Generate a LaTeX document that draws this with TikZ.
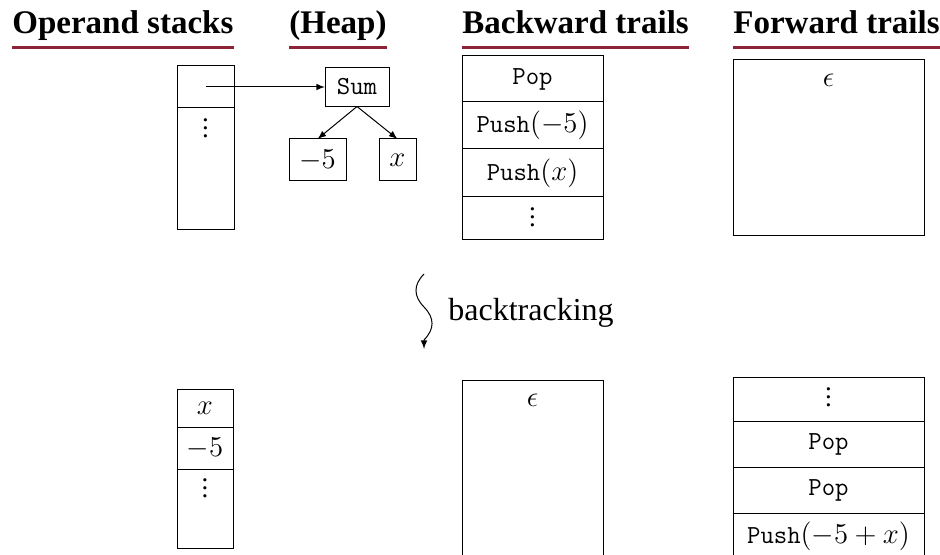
\documentclass[tikz,border=0pt]{standalone}
\usepackage{fontspec}
\setmainfont{Liberation Serif}
\usepackage{amsmath}
\usetikzlibrary{arrows,shapes,positioning}
\definecolor{headred}{RGB}{140,35,55}
\newcommand{\op}[1]{{\fontsize{13}{15}\selectfont\ttfamily #1}}

\begin{document}
\begin{tikzpicture}[x=0.5pt,y=-0.5pt]

		\tikzstyle{every node}=[font=\fontsize{13.5}{15}\selectfont]
		\tikzstyle{head}=[font=\fontsize{16.5}{18}\selectfont\bfseries, anchor=base west, inner sep=0pt]
		\tikzstyle{underl}=[line width=1.5pt, headred]
		\tikzstyle{cell}=[draw, line width=0.5pt, inner sep=0pt, outer sep=0pt, minimum height=23pt]
		\tikzstyle{vdot}=[inner sep=0pt, anchor=south]
		\tikzstyle{link}=[-latex, line width=0.5pt]

		\useasboundingbox (0,0) rectangle (940,555);
		\clip (0,0) rectangle (940,555);

		% headings
		\node[head] (hOS) at (12,34) {Operand stacks};
		\node[head] (hHeap) at (289,34) {(Heap)};
		\node[head] (hBT) at (462,34) {Backward trails};
		\node[head] (hFT) at (733,34) {Forward trails};
		\foreach \h in {hOS,hHeap,hBT,hFT}
		\draw[underl] ([yshift=-6.75pt]\h.base west) -- ([yshift=-6.75pt]\h.base east);

		% before: operand stack
		\node[cell, minimum width=28.5pt, minimum height=21pt, anchor=north west] (osTop) at (177,66) {};
		\node[cell, minimum width=28.5pt, minimum height=61pt, below=0pt of osTop] (osRest) {};
		\node[vdot] at ([yshift=-15pt]osRest.north) {$\vdots$};

		% before: heap
		\node[cell, minimum width=32pt, minimum height=19.5pt] (sum) at (357,87) {\op{Sum}};
		\node[cell, minimum width=28.5pt, minimum height=21pt] (neg) at (317.5,160) {$-5$};
		\node[cell, minimum width=18.5pt, minimum height=21pt] (xv) at (397.5,160) {$x$};
		\draw[link] (osTop.center) -- (sum);
		\draw[link] (sum.south) -- (neg.north);
		\draw[link] (sum.south) -- (xv.north);

		% before: backward trail
		\node[cell, minimum width=70.5pt, anchor=north west] (btPop) at (462,56) {\op{Pop}};
		\node[cell, minimum width=70.5pt, minimum height=23.5pt, below=0pt of btPop] (btPushA) {\op{Push}$(-5)$};
		\node[cell, minimum width=70.5pt, minimum height=24pt, below=0pt of btPushA] (btPushB) {\op{Push}$(x)$};
		\node[cell, minimum width=70.5pt, minimum height=21.5pt, below=0pt of btPushB] (btRest) {};
		\node[vdot] at ([yshift=-15pt]btRest.north) {$\vdots$};

		% before: forward trail
		\node[cell, minimum width=95.5pt, minimum height=88pt, anchor=north west] (ftBox) at (733,60) {};
		\node at ([yshift=-10pt]ftBox.north) {$\epsilon$};

		% backtracking step
		\coordinate (sqTop) at (424,274);
		\coordinate (sqEnd) at (424,349);
		\draw[link] (sqTop) .. controls (413.3,285) and (413.3,296) .. (424,307)
		.. controls (434.7,318) and (434.7,329) .. (424,340) -- (sqEnd);
		\node[font=\fontsize{16}{19}\selectfont, anchor=base west, inner sep=0pt] (stepText) at (448,320) {backtracking};

		% after: operand stack
		\node[cell, minimum width=28pt, minimum height=19pt, anchor=north west] (os2X) at (177,389) {$x$};
		\node[cell, minimum width=28pt, minimum height=21pt, below=0pt of os2X] (os2Neg) {$-5$};
		\node[cell, minimum width=28pt, minimum height=39.5pt, below=0pt of os2Neg] (os2Rest) {};
		\node[vdot] at ([yshift=-14.5pt]os2Rest.north) {$\vdots$};

		% after: backward trail
		\node[cell, minimum width=70.5pt, minimum height=100pt, anchor=north west] (bt2Box) at (462,380) {};
		\node at ([yshift=-10pt]bt2Box.north) {$\epsilon$};

		% after: forward trail
		\node[cell, minimum width=95.5pt, minimum height=22pt, anchor=north west] (ft2Rest) at (733,377) {};
		\node[vdot] at ([yshift=-15pt]ft2Rest.north) {$\vdots$};
		\node[cell, minimum width=95.5pt, below=0pt of ft2Rest] (ft2PopA) {\op{Pop}};
		\node[cell, minimum width=95.5pt, below=0pt of ft2PopA] (ft2PopB) {\op{Pop}};
		\node[cell, minimum width=95.5pt, below=0pt of ft2PopB] (ft2Push) {\op{Push}$(-5+x)$};

\end{tikzpicture}
\end{document}
